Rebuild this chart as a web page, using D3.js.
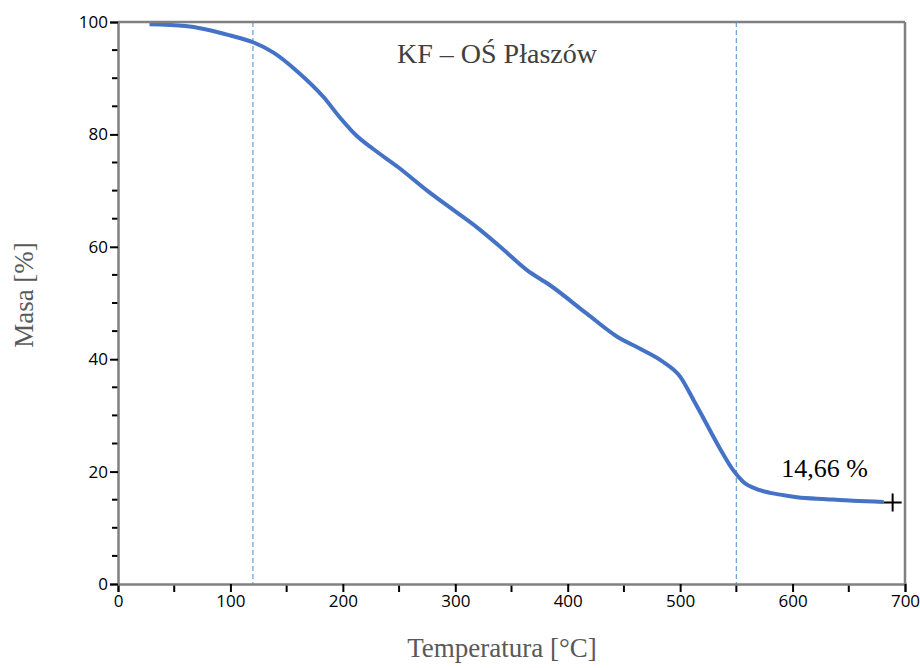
<!DOCTYPE html>
<html>
<head>
<meta charset="utf-8">
<script src="https://cdn.jsdelivr.net/npm/d3@7"></script>
<style>
  html, body { margin: 0; padding: 0; background: #fff; }
  svg { display: block; }
</style>
</head>
<body>
<svg id="chart" width="920" height="668"></svg>
<script>
// ---- data ----
const temperature = [28, 60, 100, 120, 138, 159, 183, 197, 212, 227, 249, 275, 300, 319, 340, 364, 384, 417, 444, 464, 485, 500, 512, 521, 536, 547, 556, 571, 589, 604, 630, 654, 681];
const mass        = [99.6, 99.3, 97.6, 96.4, 94.6, 91.3, 86.6, 83.1, 79.8, 77.4, 74.2, 70.0, 66.3, 63.5, 60.0, 55.8, 53.2, 48.1, 44.0, 41.9, 39.5, 36.9, 32.7, 29.4, 23.9, 20.3, 18.2, 16.7, 15.9, 15.45, 15.1, 14.8, 14.6];
const markerPoint = { t: 689, m: 14.5 };
const dashedTemps = [120, 550];
const xTicks = [0, 100, 200, 300, 400, 500, 600, 700];
const xMinorTicks = [50, 150, 250, 350, 450, 550, 650];
const yTicks = [0, 20, 40, 60, 80, 100];
const yMinorTicks = [5, 10, 15, 25, 30, 35, 45, 50, 55, 65, 70, 75, 85, 90, 95];
const titleText = "KF – OŚ Płaszów";
const annotationText = "14,66 %";
const annotationPos = { t: 590, m: 19.1 };
const xLabel = "Temperatura [°C]";
const yLabel = "Masa [%]";

// ---- layout ----
const svg = d3.select("#chart");
const pLeft = 118, pRight = 905, pTop = 22, pBottom = 584;
const x = d3.scaleLinear().domain([0, 700]).range([pLeft, pRight]);
const y = d3.scaleLinear().domain([0, 100]).range([pBottom, pTop]);

const tickFont = "'Open Sans', sans-serif";
const serif = "'Liberation Serif', 'Times New Roman', serif";

// dashed vertical lines
svg.selectAll(".vdash").data(dashedTemps).enter().append("line")
  .attr("x1", d => x(d)).attr("x2", d => x(d))
  .attr("y1", pTop).attr("y2", pBottom)
  .attr("stroke", "#6fa8dc").attr("stroke-width", 1.3)
  .attr("stroke-dasharray", "5,3");

// curve
const line = d3.line()
  .x((d, i) => x(temperature[i]))
  .y((d, i) => y(mass[i]))
  .curve(d3.curveMonotoneX);
svg.append("path")
  .attr("d", line(mass))
  .attr("fill", "none")
  .attr("stroke", "#4472c4")
  .attr("stroke-width", 4)
  .attr("stroke-linejoin", "round");

// frame (top & right)
svg.append("line").attr("x1", pLeft).attr("x2", pRight).attr("y1", pTop).attr("y2", pTop)
  .attr("stroke", "#808080").attr("stroke-width", 2.5);
svg.append("line").attr("x1", pRight).attr("x2", pRight).attr("y1", pTop).attr("y2", pBottom)
  .attr("stroke", "#808080").attr("stroke-width", 2.5);

// x axis
const xAxisG = svg.append("g").attr("transform", `translate(0,${pBottom})`);
xAxisG.selectAll(".xminor").data(xMinorTicks).enter().append("line")
  .attr("x1", d => x(d)).attr("x2", d => x(d)).attr("y1", 0).attr("y2", 8)
  .attr("stroke", "#000").attr("stroke-width", 2);
xAxisG.call(d3.axisBottom(x).tickValues(xTicks).tickSize(8).tickPadding(3).tickFormat(d3.format("d")));
xAxisG.select(".domain").attr("stroke", "#808080").attr("stroke-width", 2.5);
xAxisG.selectAll(".tick line").attr("stroke", "#000").attr("stroke-width", 2);
xAxisG.selectAll(".tick text").attr("font-family", tickFont).attr("font-size", 17).attr("fill", "#000");

// y axis
const yAxisG = svg.append("g").attr("transform", `translate(${pLeft},0)`);
yAxisG.selectAll(".yminor").data(yMinorTicks).enter().append("line")
  .attr("x1", -6).attr("x2", 0).attr("y1", d => y(d)).attr("y2", d => y(d))
  .attr("stroke", "#000").attr("stroke-width", 2);
yAxisG.call(d3.axisLeft(y).tickValues(yTicks).tickSize(8).tickPadding(2).tickFormat(d3.format("d")));
yAxisG.select(".domain").attr("stroke", "#808080").attr("stroke-width", 2.5);
yAxisG.selectAll(".tick line").attr("stroke", "#000").attr("stroke-width", 2);
yAxisG.selectAll(".tick text").attr("font-family", tickFont).attr("font-size", 17).attr("fill", "#000");

// end marker "+"
const mx = x(markerPoint.t), my = y(markerPoint.m);
svg.append("path")
  .attr("d", `M${mx - 9},${my}H${mx + 9}M${mx},${my - 9}V${my + 9}`)
  .attr("stroke", "#000").attr("stroke-width", 2).attr("fill", "none");

// annotation
svg.append("text")
  .attr("x", x(annotationPos.t)).attr("y", y(annotationPos.m))
  .attr("font-family", serif).attr("font-size", 26).attr("fill", "#000")
  .text(annotationText);

// title
svg.append("text")
  .attr("x", 497).attr("y", 63).attr("text-anchor", "middle")
  .attr("font-family", serif).attr("font-size", 28).attr("fill", "#404040")
  .text(titleText);

// axis labels
svg.append("text")
  .attr("x", 502).attr("y", 657).attr("text-anchor", "middle")
  .attr("font-family", serif).attr("font-size", 27).attr("fill", "#595959")
  .text(xLabel);
svg.append("text")
  .attr("transform", "translate(33,295) rotate(-90)")
  .attr("text-anchor", "middle")
  .attr("font-family", serif).attr("font-size", 27).attr("fill", "#595959")
  .text(yLabel);
</script>
</body>
</html>
